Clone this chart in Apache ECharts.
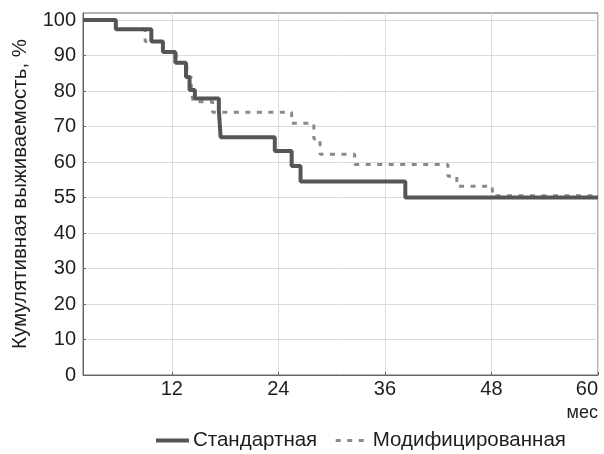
<!DOCTYPE html>
<html>
<head>
<meta charset="utf-8">
<script src="https://cdn.jsdelivr.net/npm/echarts@6/dist/echarts.min.js"></script>
<style>
  html, body { margin: 0; padding: 0; background: #fff; }
  #chart { width: 604px; height: 454px; }
</style>
</head>
<body>
<div id="chart"></div>
<script>
// months at which each curve steps down, and the level it drops to
const stdTimes = [2, 5.7, 9.7, 11.0, 12.4, 13.6, 14.0, 14.6, 17.3, 17.5, 23.6, 25.5, 26.5, 38.3, 60];
const stdValues = [100, 97.4, 94, 91, 88, 84, 80.3, 77.9, 74.6, 67, 63.1, 58.9, 54.5, 50, 50];

const modTimes = [2, 5.7, 9.0, 11.0, 12.5, 13.7, 14.2, 14.4, 16.6, 25.5, 28.0, 28.7, 32.6, 43.1, 44.1, 48.1, 60];
const modValues = [100, 97.4, 94, 91, 88, 84, 80.3, 77, 74, 70.9, 66.5, 62.2, 59.3, 56, 53.2, 50.5, 50.5];

const xTicks = [12, 24, 36, 48, 60];
const xGrid = [12, 24, 36, 48];
const yTicks = [0, 10, 20, 30, 40, 50, 60, 70, 80, 90, 100];
const yTickLabels = ['0', '10', '20', '30', '40', '55', '60', '70', '80', '90', '100'];
const yGrid = [10, 20, 30, 40, 50, 60, 70, 80, 90];

const seriesNames = ['Стандартная', 'Модифицированная'];

const FONT = '"Liberation Sans", Arial, sans-serif';
const TEXT_COLOR = '#1e1e1e';
const STD_COLOR = '#555555';
const MOD_COLOR = '#8a8a8a';

function toPairs(times, values) {
    return times.map((t, i) => [t, values[i]]);
}

const chart = echarts.init(document.getElementById('chart'), null, { renderer: 'canvas' });

chart.setOption({
    animation: false,
    backgroundColor: '#fff',
    grid: {
        left: 83, right: 6, top: 13, bottom: 79,
        outerBoundsMode: 'none',
        containLabel: false,
        show: true,
        borderColor: '#666',
        borderWidth: 1,
    },
    legend: {
        left: 154,
        bottom: 3,
        padding: 0,
        itemWidth: 33,
        itemHeight: 14,
        itemGap: 17,
        itemStyle: { opacity: 0 },
        textStyle: { fontFamily: FONT, fontSize: 20.5, color: TEXT_COLOR, padding: [0, 0, 0, -1] },
        data: [
            { name: seriesNames[0], lineStyle: { width: 4, color: STD_COLOR } },
            { name: seriesNames[1], lineStyle: { width: 3, color: MOD_COLOR, type: [5, 6.5] } },
        ],
    },
    xAxis: {
        type: 'value',
        min: 2,
        max: 60,
        name: 'мес',
        nameLocation: 'end',
        nameGap: 0,
        nameTextStyle: {
            fontFamily: FONT, fontSize: 18, color: TEXT_COLOR,
            align: 'right', verticalAlign: 'top', padding: [29, 0, 0, 0],
        },
        axisLine: { lineStyle: { color: '#666', width: 1 } },
        axisTick: { inside: true, length: 3, customValues: xTicks, lineStyle: { color: '#666' } },
        axisLabel: {
            customValues: xTicks,
            margin: 4,
            alignMaxLabel: 'right',
            fontFamily: FONT, fontSize: 20, color: TEXT_COLOR,
        },
        splitLine: { show: true, customValues: xGrid, lineStyle: { color: '#dcdcdc', width: 1 } },
    },
    yAxis: {
        type: 'value',
        min: 0,
        max: 102,
        name: 'Кумулятивная выживаемость, %',
        nameLocation: 'middle',
        nameGap: 52,
        nameTextStyle: { fontFamily: FONT, fontSize: 20.5, color: TEXT_COLOR },
        axisLine: { show: true, lineStyle: { color: '#666', width: 1 } },
        axisTick: { show: true, inside: true, length: 3, customValues: yTicks, lineStyle: { color: '#666' } },
        axisLabel: {
            customValues: yTicks,
            margin: 7,
            fontFamily: FONT, fontSize: 20, color: TEXT_COLOR,
            formatter: (v) => yTickLabels[yTicks.indexOf(Math.round(v))] ?? '',
        },
        splitLine: { show: true, customValues: yGrid, lineStyle: { color: '#dcdcdc', width: 1 } },
    },
    series: [
        {
            name: seriesNames[1],
            type: 'line',
            step: 'end',
            symbol: 'none',
            z: 2,
            data: toPairs(modTimes, modValues),
            itemStyle: { color: MOD_COLOR },
            lineStyle: { color: MOD_COLOR, width: 3, type: [5, 6.5] },
        },
        {
            name: seriesNames[0],
            type: 'line',
            step: 'end',
            symbol: 'none',
            z: 3,
            data: toPairs(stdTimes, stdValues),
            itemStyle: { color: STD_COLOR },
            lineStyle: { color: STD_COLOR, width: 4 },
        },
    ],
});
</script>
</body>
</html>
